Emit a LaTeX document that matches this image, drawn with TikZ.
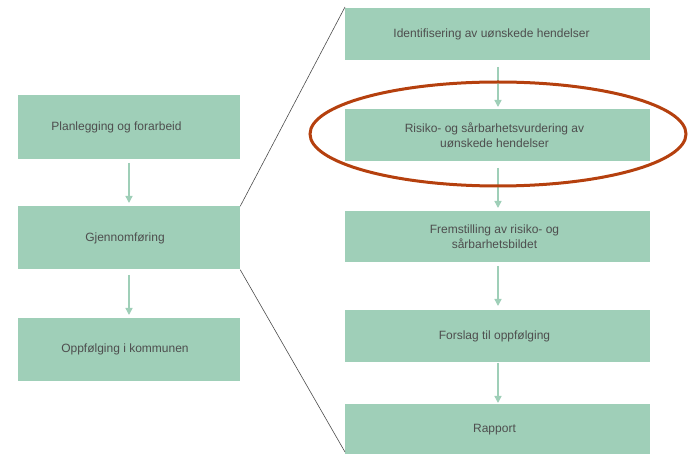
\documentclass[tikz,border=0pt]{standalone}
\usepackage{fontspec}
\setmainfont{Liberation Sans}
\usetikzlibrary{arrows.meta}
\definecolor{boxfill}{HTML}{9FCFB8}
\definecolor{txt}{HTML}{4E4E4E}
\definecolor{ring}{HTML}{B5400E}
\begin{document}
\begin{tikzpicture}[x=1pt,y=-1pt,
  boxnode/.style={fill=boxfill,draw=none,inner sep=0pt,text=txt,font=\fontsize{12}{15}\selectfont,align=center},
  flow/.style={draw=boxfill,line width=1.4pt,-{Triangle[length=7pt,width=7pt]}},
  zoomline/.style={draw=black!70,line width=0.6pt}]
\useasboundingbox (0,0) rectangle (689,454);
% left column
\node[boxnode,minimum width=222pt,minimum height=64pt] (L1) at (129,127) {Planlegging og forarbeid\hspace*{25pt}};
\node[boxnode,minimum width=222pt,minimum height=63pt] (L2) at (129,238) {Gjennomføring\hspace*{8pt}};
\node[boxnode,minimum width=222pt,minimum height=63pt] (L3) at (129,349.5) {Oppfølging i kommunen\hspace*{8pt}};
\coordinate (a1s) at (129,163); \coordinate (a1e) at (129,203);
\coordinate (a2s) at (129,275); \coordinate (a2e) at (129,315);
\draw[flow] (a1s) -- (a1e);
\draw[flow] (a2s) -- (a2e);
% right column
\node[boxnode,minimum width=305pt,minimum height=52pt] (R1) at (497.5,34) {Identifisering av uønskede hendelser\hspace*{12pt}};
\node[boxnode,minimum width=305pt,minimum height=52pt] (R2) at (497.5,135.5) {Risiko- og sårbarhetsvurdering av\hspace*{6pt}\\uønskede hendelser\hspace*{6pt}};
\node[boxnode,minimum width=305pt,minimum height=51pt] (R3) at (497.5,236.5) {Fremstilling av risiko- og\hspace*{6pt}\\sårbarhetsbildet\hspace*{6pt}};
\node[boxnode,minimum width=305pt,minimum height=52pt] (R4) at (497.5,336) {Forslag til oppfølging\hspace*{6pt}};
\node[boxnode,minimum width=305pt,minimum height=50pt] (R5) at (497.5,429.5) {Rapport\hspace*{6pt}};
\coordinate (b1s) at (498,67); \coordinate (b1e) at (498,107);
\coordinate (b2s) at (498,168); \coordinate (b2e) at (498,208);
\coordinate (b3s) at (498,266); \coordinate (b3e) at (498,306);
\coordinate (b4s) at (498,363); \coordinate (b4e) at (498,403);
\draw[flow] (b1s) -- (b1e);
\draw[flow] (b2s) -- (b2e);
\draw[flow] (b3s) -- (b3e);
\draw[flow] (b4s) -- (b4e);
% zoom lines
\coordinate (zt) at (345,7);
\coordinate (zb) at (345,452);
\draw[zoomline] (L2.north east) -- (zt);
\draw[zoomline] (L2.south east) -- (zb);
% ellipse highlight
\draw[ring,line width=3pt] (498,134) ellipse [x radius=188, y radius=52];
\end{tikzpicture}
\end{document}
